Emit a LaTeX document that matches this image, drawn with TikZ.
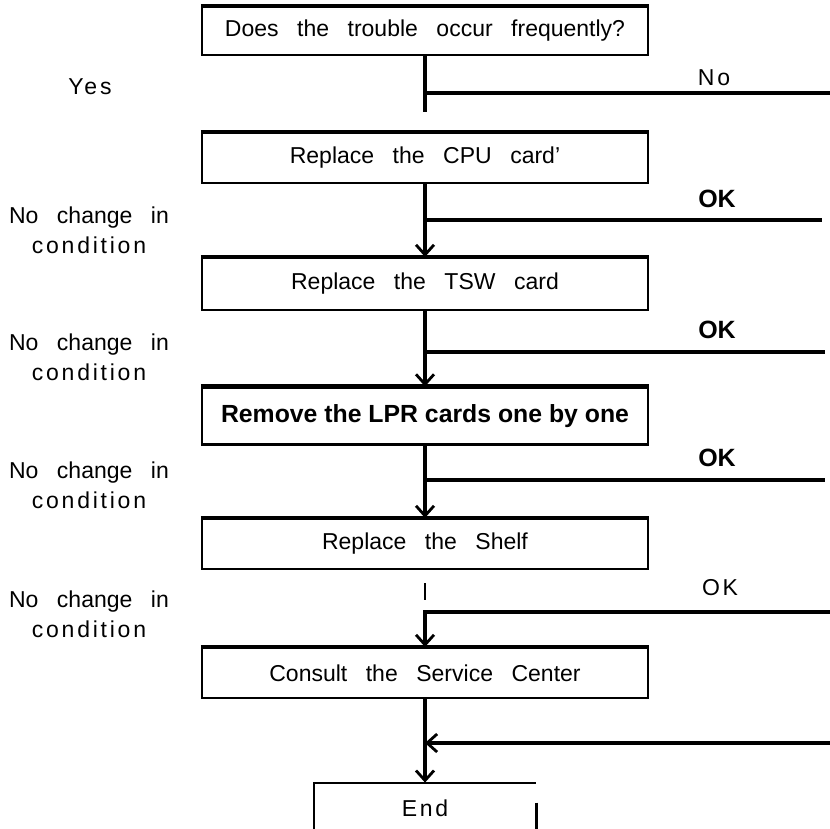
\documentclass[tikz,border=0pt]{standalone}
\usepackage{fontspec}
\setmainfont{Liberation Sans}[WordSpace=2.9]
\newfontfamily\plainsans{Liberation Sans}
\usepackage{tikz}
\usetikzlibrary{arrows.meta}
\newcommand{\tracked}[1]{{\addfontfeature{LetterSpace=12}#1}}
\tikzset{
  stepbox/.style ={rectangle, draw=black, line width=1.1pt, minimum width=223pt,
                   minimum height=25pt, inner sep=0pt, align=center,
                   font=\fontsize{11.5}{14}\selectfont},
  boldbox/.style ={stepbox, font=\plainsans\bfseries\fontsize{12.4}{14}\selectfont},
  endbox/.style  ={rectangle, minimum width=111pt, minimum height=25pt, inner sep=0pt,
                   font=\fontsize{11.5}{14}\selectfont},
  side/.style    ={align=center, font=\fontsize{11.5}{15}\selectfont},
  oklbl/.style   ={font=\plainsans\bfseries\fontsize{12.5}{14}\selectfont},
  line/.style    ={line width=1.6pt},
  flow/.style    ={line width=1.6pt, -{Straight Barb[length=5pt,width=9pt,line width=1.4pt]}},
  edge/.style    ={line width=1.1pt}
}
\begin{document}
\begin{tikzpicture}[x=0.5pt, y=-0.5pt]
\useasboundingbox (0,0) rectangle (830,829);
% ---- steps ----
\node[stepbox, minimum height=24pt] (trouble) at (425,31) {Does the trouble occur frequently?};
\node[stepbox] (cpu) at (425,158) {Replace the CPU card'};
\node[stepbox, minimum height=26pt] (tsw) at (425,284) {Replace the TSW card};
\node[boldbox, minimum height=28.5pt] (lpr) at (425,416) {Remove the LPR cards one by one};
\node[stepbox] (shelf) at (425,544) {Replace the Shelf};
\node[stepbox] (centre) at (425,673) {Consult the Service Center};
\node[endbox] (finish) at (425,808) {\tracked{End}};
% heavier top edges
\foreach \b in {trouble,cpu,tsw,lpr,shelf,centre}
  \draw[line width=2pt] (\b.north west) -- (\b.north east);
\draw[edge] (finish.south west) -- (finish.north west) -- (finish.north east);
\draw[edge] ([yshift=-10pt]finish.north east) -- (finish.south east);

% ---- left labels ----
\node[side] (yes) at (90,87) {\tracked{Yes}};
\node[side] (nc1) at (89,230) {No change in\\\tracked{condition}};
\node[side] (nc2) at (89,357) {No change in\\\tracked{condition}};
\node[side] (nc3) at (89,485) {No change in\\\tracked{condition}};
\node[side] (nc4) at (89,614) {No change in\\\tracked{condition}};

% ---- right labels ----
\node[side] (no) at (714,78) {\tracked{No}};
\node[oklbl] (ok1) at (717,199) {OK};
\node[oklbl] (ok2) at (717,330) {OK};
\node[oklbl] (ok3) at (717,458) {OK};
\node[side] (ok4) at (720,588) {\tracked{OK}};

% ---- branch points ----
\coordinate (stem) at (425,112);
\coordinate (j0) at (425,93);  \coordinate (r0) at (830,93);
\coordinate (j1) at (425,220); \coordinate (r1) at (822,220);
\coordinate (j2) at (425,352); \coordinate (r2) at (825,352);
\coordinate (j3) at (425,480); \coordinate (r3) at (825,480);
\coordinate (j4) at (425,612); \coordinate (r4) at (830,612);
\coordinate (j5) at (425,743); \coordinate (r5) at (830,743);
\coordinate (t1) at (425,583); \coordinate (t2) at (425,600);

% ---- connectors ----
\draw[line] (trouble.south) -- (stem);
\draw[line] (j0) -- (r0);
\draw[flow] (cpu.south) -- (tsw.north);
\draw[line] (j1) -- (r1);
\draw[flow] (tsw.south) -- (lpr.north);
\draw[line] (j2) -- (r2);
\draw[flow] (lpr.south) -- (shelf.north);
\draw[line] (j3) -- (r3);
\draw[edge] (t1) -- (t2);
\draw[flow] (r4) -- (j4) -- (centre.north);
\draw[flow] (centre.south) -- (finish.north);
\draw[flow] (r5) -- (j5);
\end{tikzpicture}
\end{document}
